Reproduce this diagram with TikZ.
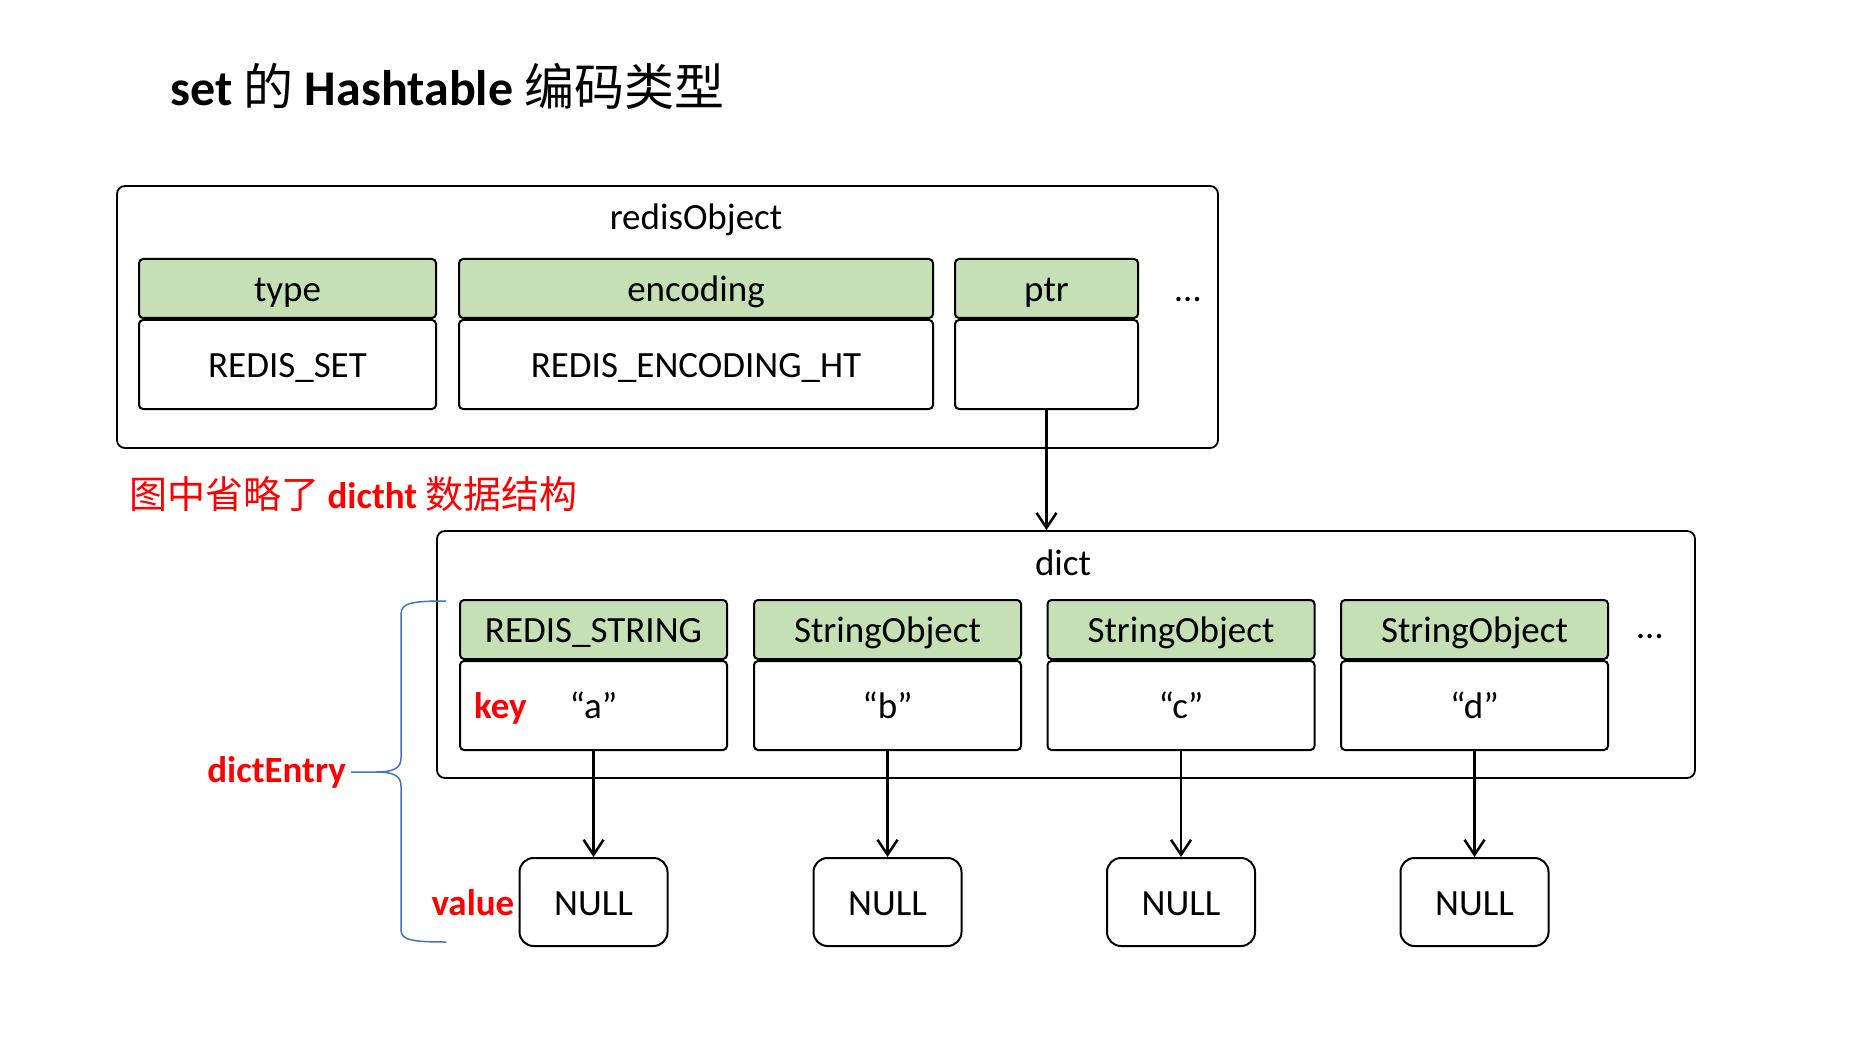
\documentclass[tikz,border=0pt]{standalone}
\usepackage{fontspec}
\setmainfont{Carlito}
\newfontfamily\cjk{Noto Sans CJK SC}
\usetikzlibrary{arrows.meta, positioning}

\definecolor{hdgreen}{HTML}{C5E0B4}
\definecolor{bracebl}{HTML}{4472C4}

\begin{document}
\begin{tikzpicture}[x=1pt, y=-1pt,   % one unit = one pixel of the slide
    txt/.style={font=\fontsize{37}{44}\selectfont, inner sep=0pt},
    redtxt/.style={inner sep=0pt, text=red, font=\fontsize{37}{44}\selectfont\bfseries},
    outerbox/.style={draw, line width=1.8pt, rounded corners=8pt},
    headbox/.style={
        draw,
        fill=hdgreen,
        line width=2pt,
        rounded corners=4pt,
        minimum height=59pt,
        text height=29pt,
        text depth=3pt,
        font=\fontsize{37}{44}\selectfont
    },
    valbox/.style={headbox, fill=white, minimum height=89pt},
    nullbox/.style={valbox, rounded corners=14pt, minimum width=148pt, minimum height=88pt},
    link/.style={line width=2.5pt, -{Straight Barb[length=15pt, width=20pt, line width=2.5pt]}}
]
    \useasboundingbox (0,0) rectangle (1868,1048);

    % Title
    \node [anchor=west, inner sep=0pt, font=\fontsize{50}{58}\selectfont\bfseries] (title) at (170,86)
        {set {\cjk\mdseries 的} Hashtable {\cjk\mdseries 编码类型}};

    % 1. The redisObject
    \node [outerbox, minimum width=1101pt, minimum height=262pt] (robj) at (667.5,317) {};
    \node [txt] (robjname) at (696,220) {redisObject};

    \node [headbox, minimum width=297pt] (typeh) at (287.5,288.5) {type};
    \node [valbox, minimum width=297pt, below=0pt of typeh] (typev) {REDIS\_SET};

    \node [headbox, minimum width=474pt] (ench) at (696,288.5) {encoding};
    \node [valbox, minimum width=474pt, below=0pt of ench] (encv) {REDIS\_ENCODING\_HT};

    \node [headbox, minimum width=183pt] (ptrh) at (1046.5,288.5) {ptr};
    \node [valbox, minimum width=183pt, below=0pt of ptrh] (ptrv) {};

    \node [txt] (rdots) at (1188,300) {\ldots};

    % the note in red
    \node [redtxt, anchor=west] (note) at (129,494)
        {{\cjk\mdseries\fontsize{38}{44}\selectfont 图中省略了} dictht {\cjk\mdseries\fontsize{38}{44}\selectfont 数据结构}};

    % 2. The dict
    \node [outerbox, minimum width=1258pt, minimum height=247pt] (dict) at (1066,654.5) {};
    \node [txt] (dictname) at (1063,563) {dict};

    \draw [link] (ptrv.south) -- (ptrv.south |- dict.north);

    % entries, keys and their NULL values
    \foreach \n/\x/\hd/\vl in {1/593.5/REDIS\_STRING/“a”, 2/887.5/StringObject/“b”,
                                3/1181/StringObject/“c”, 4/1474.5/StringObject/“d”} {
        \node [headbox, minimum width=267pt] (eh\n) at (\x,629.5) {\hd};
        \node [valbox, minimum width=267pt, below=0pt of eh\n] (ev\n) {\vl};
        \node [nullbox] (null\n) at (\x,902) {NULL};
        \draw [link] (ev\n.south) -- (null\n.north);
    }

    \node [txt] (ddots) at (1650,637) {\ldots};

    \node [redtxt, anchor=base west] (key) at ([xshift=15pt]ev1.base west) {key};
    \node [redtxt, anchor=base east] (value) at ([xshift=-4pt]null1.base west) {value};

    % 3. The brace round one dictEntry
    \node [redtxt, anchor=east] (entrylbl) at (346,772) {dictEntry};
    \draw [bracebl, line width=1.5pt]
        (446,601) .. controls (412,601) and (401,603) .. (401,614)
        -- (401,758) .. controls (401,768) and (394,772) .. (376,772)
        -- ([xshift=5pt]entrylbl.east) -- (376,772)
        .. controls (394,772) and (401,776) .. (401,786)
        -- (401,930) .. controls (401,940) and (412,942) .. (446,942);

\end{tikzpicture}
\end{document}
